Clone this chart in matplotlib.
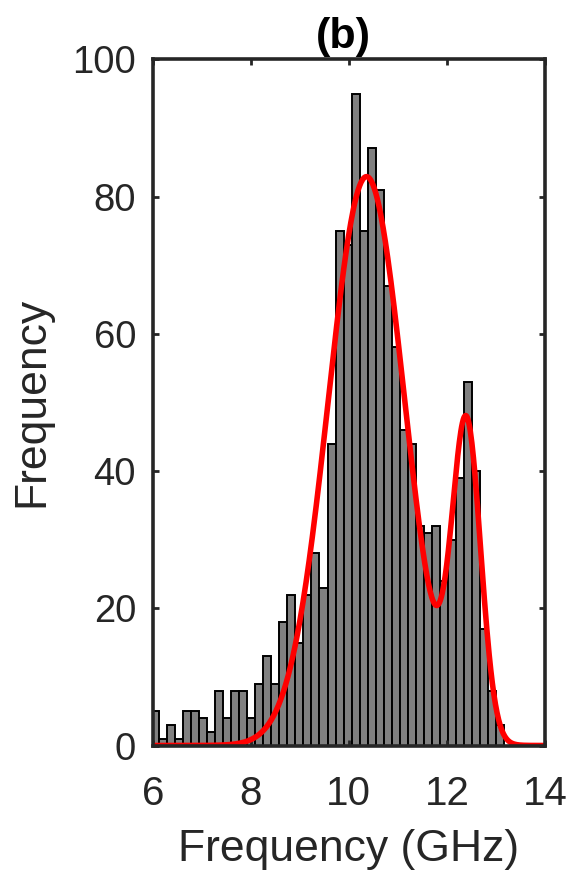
import numpy as np
from matplotlib import pyplot as plt

# histogram counts read bar by bar (bin width ~0.163 GHz, first bin at ~5.97 GHz)
bin_start = 5.97
bin_width = 0.1634
counts = [5, 1, 3, 1, 5, 5, 4, 2, 8, 4, 8, 8, 4, 9, 13, 9, 18, 22, 15, 22,
          28, 23, 44, 75, 73, 95, 75, 87, 81, 67, 58, 46, 44, 32, 31, 32, 24, 30, 39, 53,
          40, 17, 8, 3]

# two-peak fit (red curve): centre, width, height of each component
peak_centers = [10.36, 12.40]
peak_widths = [0.78, 0.29]
peak_heights = [82.9, 45.3]

xticks = [6, 8, 10, 12, 14]
yticks = [0, 20, 40, 60, 80, 100]

txt = '#262626'
plt.rcParams['font.family'] = ['Liberation Sans', 'DejaVu Sans']

fig = plt.figure(figsize=(5.82, 8.81), dpi=100)
ax = fig.add_axes([0.2624, 0.1538, 0.6740, 0.7789])

edges = bin_start + bin_width*np.arange(len(counts))
ax.bar(edges, counts, width=bin_width, align='edge', color='#808080',
       edgecolor='black', linewidth=1.4)

xf = np.linspace(6, 14, 500)
yf = np.zeros_like(xf)
for m, s, a in zip(peak_centers, peak_widths, peak_heights):
	yf = yf + a*np.exp(-(xf - m)**2/(2*s**2))
ax.plot(xf, yf, color='red', linewidth=4.0)

ax.set_xlim(6, 14)
ax.set_ylim(0, 100)
ax.set_xticks(xticks)
ax.set_yticks(yticks)
ax.tick_params(direction='in', top=True, right=True, length=4.5, width=2.0,
               colors=txt, labelcolor=txt)
ax.tick_params(axis='x', labelsize=29, pad=21)
ax.tick_params(axis='y', labelsize=27.5, pad=12)
for sp in ax.spines.values():
	sp.set_linewidth(2.6)
	sp.set_color(txt)

ax.set_xlabel("Frequency (GHz)", fontsize=32, color=txt, labelpad=12)
ax.set_ylabel("Frequency", fontsize=32, color=txt, labelpad=14)
ax.set_title("(b)", fontsize=31, fontweight='bold', color='black', pad=8, x=0.485)

plt.savefig("out.png", dpi=100)
